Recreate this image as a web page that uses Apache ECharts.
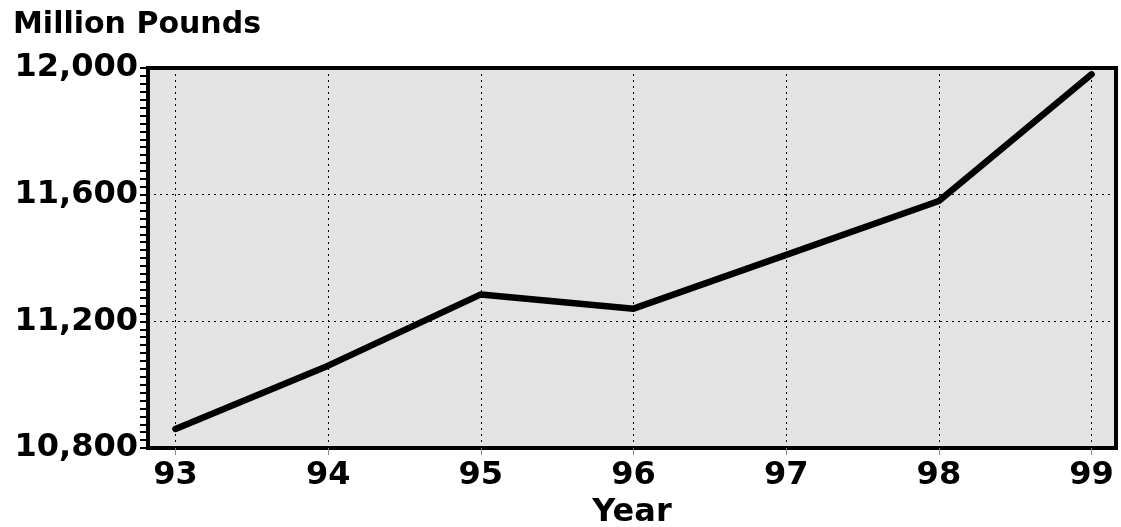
<!DOCTYPE html>
<html><head><meta charset="utf-8">
<script src="https://cdn.jsdelivr.net/npm/echarts@6/dist/echarts.min.js"></script>
<style>html,body{margin:0;padding:0;background:#fff}#c{width:1121px;height:527px}</style>
</head><body><div id="c"></div>
<script>
var years = [93, 94, 95, 96, 97, 98, 99];
var values = [10860, 11060, 11285, 11240, 11410, 11580, 11980];
var yTicks = [10800, 11200, 11600, 12000];

var chart = echarts.init(document.getElementById('c'));
var font = '"DejaVu Sans", "Liberation Sans", Arial, sans-serif';
chart.setOption({
  animation: false,
  backgroundColor: '#ffffff',
  title: {text: 'Million Pounds', left: 8, top: 5, textStyle: {fontFamily: font, fontWeight: 'bold', fontSize: 30, color: '#000'}},
  grid: {left: 148, right: 5, top: 68, bottom: 79, outerBoundsMode: 'none', containLabel: false,
    show: true, backgroundColor: '#e3e3e3', borderColor: '#000', borderWidth: 4},
  xAxis: {
    type: 'value', min: 92.82, max: 99.16,
    name: 'Year', nameLocation: 'middle', nameGap: 46,
    nameTextStyle: {fontFamily: font, fontWeight: 'bold', fontSize: 32, color: '#000'},
    axisLine: {show: true, lineStyle: {color: '#000', width: 4}},
    axisTick: {show: true, customValues: years, length: 7, lineStyle: {color: '#888', width: 1}},
    axisLabel: {customValues: years, margin: 12, fontFamily: font, fontWeight: 'bold', fontSize: 32, color: '#000'},
    splitLine: {show: true, lineStyle: {color: '#000', type: [2, 4], width: 1}}
  },
  yAxis: {
    type: 'value', min: 10800, max: 12000, interval: 400,
    axisLine: {show: true, lineStyle: {color: '#000', width: 4}},
    axisTick: {show: true, length: 8, lineStyle: {color: '#000', width: 2}},
    minorTick: {show: true, splitNumber: 16, length: 8, lineStyle: {color: '#000', width: 2}},
    axisLabel: {margin: 10, fontFamily: font, fontWeight: 'bold', fontSize: 32, color: '#000',
      formatter: function (v) { return v.toLocaleString('en-US'); }},
    splitLine: {show: true, lineStyle: {color: '#000', type: [2, 4], width: 1}}
  },
  series: [{
    type: 'line', data: years.map(function (y, i) { return [y, values[i]]; }),
    showSymbol: false, symbol: 'none',
    lineStyle: {color: '#000', width: 6.5, cap: 'round', join: 'round'}
  }]
});
</script></body></html>
